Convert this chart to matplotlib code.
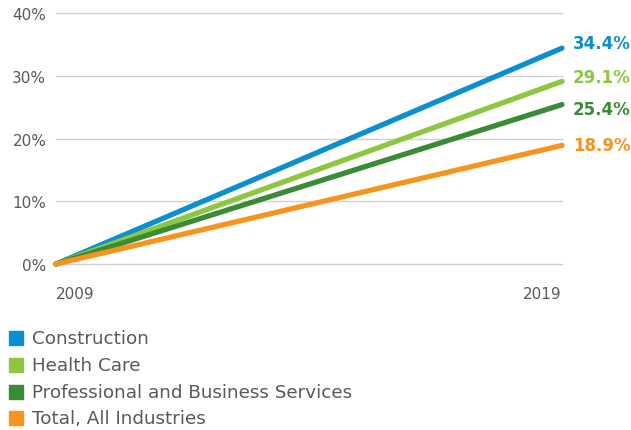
import matplotlib.pyplot as plt
from matplotlib.patches import Rectangle

# Data
years = [2009, 2019]
series_names = ['Construction', 'Health Care', 'Professional and Business Services', 'Total, All Industries']
construction = [0, 34.4]
health_care = [0, 29.1]
professional = [0, 25.4]
total_all = [0, 18.9]
colors = ['#0b8fcf', '#8dc63f', '#3a8b36', '#f7941d']

all_series = [construction, health_care, professional, total_all]
# small vertical nudges (points) so the end labels don't collide
label_nudge = [3.5, 3, -3.5, 0.5]

plt.rcParams['font.family'] = ['DejaVu Sans']

fig = plt.figure(figsize=(6.31, 4.31), dpi=100)
ax = fig.add_axes([56 / 631, 1 - 265 / 431, 506 / 631, 251 / 431])

for vals, c, dy in zip(all_series, colors, label_nudge):
    ax.plot(years, vals, color=c, lw=3.8, solid_capstyle='round', clip_on=False, zorder=3)
    ax.annotate('{:.1f}%'.format(vals[-1]), xy=(years[-1], vals[-1]), xytext=(8, dy),
                textcoords='offset points', va='center', ha='left',
                color=c, fontsize=12, fontweight='bold', annotation_clip=False)

ax.set_xlim(2009, 2019)
ax.set_ylim(0, 40)
ax.set_yticks([0, 10, 20, 30, 40])
ax.set_yticklabels(['0%', '10%', '20%', '30%', '40%'])
ax.set_xticks([2009, 2019])
ax.set_xticklabels(['2009', '2019'])
xlabels = ax.get_xticklabels()
xlabels[0].set_ha('left')
xlabels[1].set_ha('right')
ax.tick_params(axis='both', length=0, colors='#58595b', labelsize=11)
ax.tick_params(axis='y', pad=7)
ax.tick_params(axis='x', pad=16)
ax.grid(axis='y', color='#d0d0d0', lw=1)
for gl in ax.yaxis.get_gridlines():
    gl.set_clip_on(False)
ax.set_axisbelow(True)
for s in ax.spines.values():
    s.set_visible(False)

# legend drawn by hand
row_y = [339, 366, 393, 419]
for name, c, y in zip(series_names, colors, row_y):
    fig.add_artist(Rectangle((9 / 631, 1 - (y + 7) / 431), 14 / 631, 14 / 431,
                             transform=fig.transFigure, color=c))
    fig.text(32 / 631, 1 - y / 431, name, va='center', ha='left',
             fontsize=13.2, color='#58595b')

fig.savefig('out.png', dpi=100)
